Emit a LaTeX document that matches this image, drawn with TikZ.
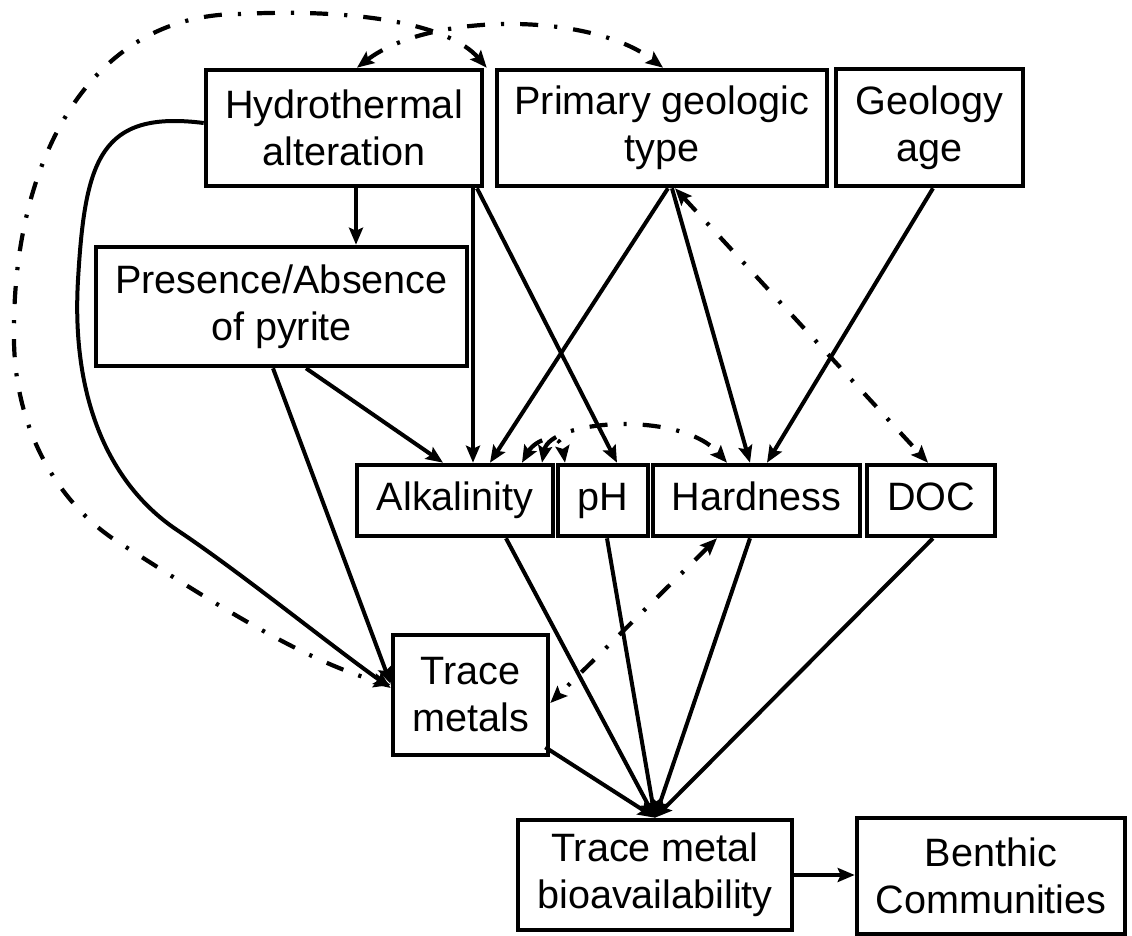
\documentclass[tikz,border=0pt]{standalone}
\usepackage{fontspec}
\setmainfont{Liberation Sans}
\usetikzlibrary{arrows.meta}

\begin{document}
\begin{tikzpicture}[x=0.5pt, y=-0.5pt,
    box/.style={draw, line width=2.3pt, align=center, inner sep=2pt,
        font=\fontsize{19.8}{23.5}\selectfont},
    chembox/.style={box, minimum height=35.5pt, text height=14.5pt, text depth=4.5pt},
    arrowline/.style={line width=2pt, -{Stealth[length=8.5pt, width=7pt, inset=1.5pt]}},
    dashline/.style={line width=2.1pt, dash pattern=on 9pt off 8pt on 1.6pt off 8pt,
        {Stealth[length=8.5pt, width=7pt, inset=1.5pt]}-{Stealth[length=8.5pt, width=7pt, inset=1.5pt]}}]
    \useasboundingbox (0,0) rectangle (1132,936);

    % Top row
    \node[box, minimum width=138pt, minimum height=58pt] (hydro) at (344,128) {Hydrothermal\\alteration};
    \node[box, minimum width=165pt, minimum height=58pt] (primary) at (662,128) {Primary geologic\\type};
    \node[box, minimum width=93.5pt, minimum height=58.5pt] (age) at (929.5,127.5) {Geology\\age};

    \node[box, minimum width=185.5pt, minimum height=59.5pt] (pyrite) at (281.5,306.5) {Presence/Absence\\of pyrite};

    % Water chemistry row
    \node[chembox, minimum width=98pt] (alk) at (455,500.5) {Alkalinity};
    \node[chembox, minimum width=45pt] (ph) at (603,500.5) {pH};
    \node[chembox, minimum width=103.5pt] (hard) at (756.5,500.5) {Hardness};
    \node[chembox, minimum width=64pt] (doc) at (931,500.5) {DOC};

    \node[box, minimum width=77.5pt, minimum height=60pt] (trace) at (470.5,695) {Trace\\metals};

    % Bottom row
    \node[box, minimum width=137pt, minimum height=55pt] (bio) at (655,875) {Trace metal\\bioavailability};
    \node[box, minimum width=134pt, minimum height=58pt] (benthic) at (991,876) {Benthic\\Communities};

    % Solid links
    \draw[arrowline] ([xshift=6pt]hydro.south) -- ([xshift=37.25pt]pyrite.north);
    \draw[arrowline] ([xshift=64.5pt]hydro.south) -- ([xshift=9pt]alk.north);
    \draw[arrowline] ([xshift=66.5pt]hydro.south) -- ([xshift=7pt]ph.north);
    \draw[arrowline] ([yshift=2.5pt]hydro.west) .. controls (100,110) and (85,160) .. (78,280)
        .. controls (71,400) and (110,485) .. (177,530)
        .. controls (240,572) and (330,645) .. ([yshift=3.5pt]trace.west);
    \draw[arrowline] ([xshift=-4.25pt]pyrite.south) -- ([yshift=5.5pt]trace.west);
    \draw[arrowline] ([xshift=12.25pt]pyrite.south) -- ([xshift=-6pt]alk.north);
    \draw[arrowline] ([xshift=3pt]primary.south) -- ([xshift=17.5pt]alk.north);
    \draw[arrowline] ([xshift=5pt]primary.south) -- ([xshift=-3.25pt]hard.north);
    \draw[arrowline] ([xshift=1.75pt]age.south) -- ([xshift=5.25pt]hard.north);

    % Everything meets at bioavailability
    \foreach \src/\dx in {alk/25.5pt, ph/2pt, hard/-3.25pt, doc/1pt}
        \draw[arrowline] ([xshift=\dx]\src.south) -- (bio.north);
    \draw[arrowline] ([xshift=-2.5pt, yshift=5pt]trace.south east) -- (bio.north);
    \draw[arrowline] (bio.east) -- (bio.east -| benthic.west);

    % Dash-dot links
    \draw[dashline] ([xshift=6.5pt]hydro.north) .. controls (430,12) and (590,12) .. ([xshift=0.5pt]primary.north);
    \draw[dashline] ([xshift=-4pt]primary.north west) .. controls (450,25) and (360,8) .. (240,14)
        .. controls (90,14) and (14,160) .. (14,330)
        .. controls (12,430) and (60,505) .. (118,542)
        .. controls (200,594) and (300,660) .. ([yshift=5pt]trace.west);
    \draw[dashline] ([xshift=6.5pt]primary.south) -- ([xshift=-1.5pt]doc.north);
    \draw[dashline] ([xshift=43.5pt]alk.north) .. controls (550,420) and (680,410) .. ([xshift=-14.75pt]hard.north);
    \draw[dashline] ([xshift=33.5pt]alk.north) .. controls (535,440) and (560,430) .. ([xshift=-19pt]ph.north);
    \draw[dashline] ([xshift=-19.75pt]hard.south) -- ([yshift=-4pt]trace.east);
\end{tikzpicture}
\end{document}
